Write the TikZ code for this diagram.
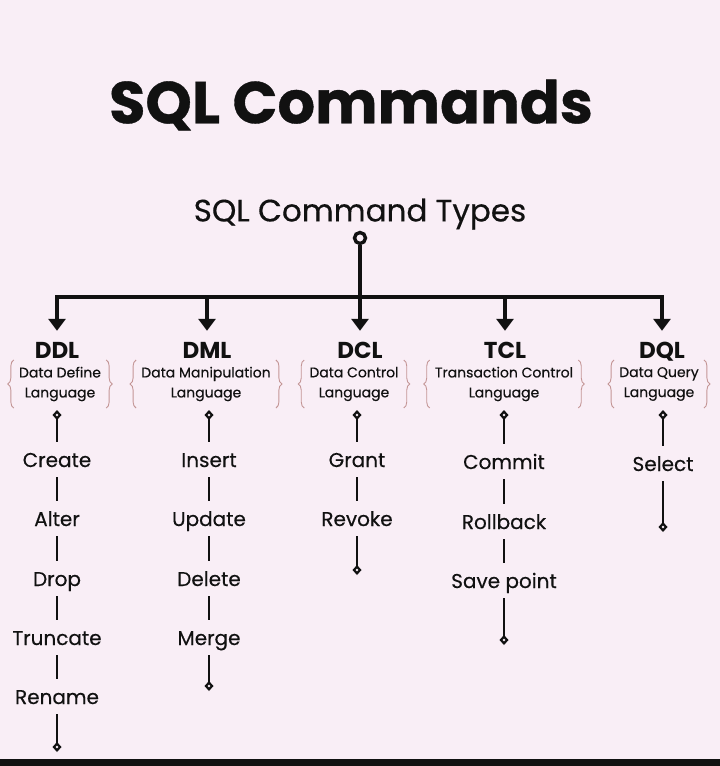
\documentclass[tikz,border=0pt]{standalone}
\usepackage{fontspec}
\setmainfont{Poppins}
\newfontfamily\medfont[FakeBold=0.35]{Poppins}
\newfontfamily\heavyfont[FakeBold=0.6]{Poppins Bold}
\usetikzlibrary{arrows.meta,decorations.pathreplacing}
\definecolor{bg}{HTML}{F9EEF6}
\definecolor{ink}{HTML}{111111}
\definecolor{brc}{HTML}{C49696}
\tikzset{
  title/.style={font=\heavyfont\fontsize{59}{59}\selectfont, text=ink, inner sep=0},
  root/.style={font=\medfont\fontsize{31}{31}\selectfont, text=ink, inner sep=0},
  header/.style={font=\bfseries\fontsize{23}{23}\selectfont, text=ink, anchor=base,
                 text height=16pt, text depth=0pt, inner xsep=0pt, inner ysep=11pt},
  subtitle/.style={font=\medfont\fontsize{14}{20}\selectfont, text=ink, align=center,
                   inner xsep=1pt, inner ysep=0pt},
  item/.style={font=\medfont\fontsize{20}{20}\selectfont, text=ink, anchor=base,
               text height=15pt, text depth=0pt, inner xsep=0pt, inner ysep=10pt},
  busline/.style={draw=ink, line width=4.2pt},
  busarrow/.style={draw=ink, line width=4.2pt, -{Triangle[width=17pt,length=12pt]}},
  conn/.style={draw=ink, line width=2.7pt},
  dstart/.style={{Diamond[open,width=9pt,length=10pt,line width=2.2pt]}-},
  dend/.style={-{Diamond[open,width=9pt,length=10pt,line width=2.2pt]}},
  brace/.style={draw=brc, line width=0.9pt, decorate, decoration={brace,amplitude=6pt}},
}
\begin{document}
\begin{tikzpicture}[x=1pt,y=-1pt]
\fill[bg] (0,0) rectangle (720,766);
\useasboundingbox (0,0) rectangle (720,766);
\fill[ink] (0,759) rectangle (720,766);

\node[title] (title) at (351,105) {SQL Commands};
\node[root] (types) at (360,214) {SQL Command Types};
\node[circle, draw=ink, line width=3.4pt, minimum size=11pt, inner sep=0] (hub) at (360,238) {};
\coordinate (bus) at (360,297);
\draw[busline] (hub.south) -- (bus);

% headers
\node[header] (ddl) at (57,358) {DDL};
\node[header] (dml) at (207,358) {DML};
\node[header] (dcl) at (360,358) {DCL};
\node[header] (tcl) at (505,358) {TCL};
\node[header] (dql) at (662,358) {DQL};
\foreach \h in {ddl,dml,dcl,tcl,dql}{
  \draw[busarrow] (bus) -| (\h.north);
}

% subtitles
\node[subtitle] (sddl) at (60,384) {Data Define\\Language};
\node[subtitle] (sdml) at (206,384) {Data Manipulation\\Language};
\node[subtitle] (sdcl) at (354,384) {Data Control\\Language};
\node[subtitle] (stcl) at (504,384) {Transaction Control\\Language};
\node[subtitle] (sdql) at (659,384) {Data Query\\Language};
\foreach \s in {sddl,sdml,sdcl,stcl,sdql}{
  \draw[brace] ([xshift=-4pt,yshift=-24pt]\s.west) -- ([xshift=-4pt,yshift=24pt]\s.west);
  \draw[brace] ([xshift=4pt,yshift=24pt]\s.east) -- ([xshift=4pt,yshift=-24pt]\s.east);
}

% DDL column
\node[item] (create) at (57,467) {Create};
\node[item] (alter) at (57,526) {Alter};
\node[item] (drop) at (57,586) {Drop};
\node[item] (truncate) at (57,645) {Truncate};
\node[item] (rename) at (57,704) {Rename};
\coordinate (ddltop) at (57,410);
\coordinate (ddlend) at (57,752);
\draw[conn,dstart] (ddltop) -- (create.north);
\draw[conn] (create.south) -- (alter.north);
\draw[conn] (alter.south) -- (drop.north);
\draw[conn] (drop.south) -- (truncate.north);
\draw[conn] (truncate.south) -- (rename.north);
\draw[conn,dend] (rename.south) -- (ddlend);

% DML column
\node[item] (insert) at (209,467) {Insert};
\node[item] (update) at (209,526) {Update};
\node[item] (delete) at (209,586) {Delete};
\node[item] (merge) at (209,645) {Merge};
\coordinate (dmltop) at (209,410);
\coordinate (dmlend) at (209,691);
\draw[conn,dstart] (dmltop) -- (insert.north);
\draw[conn] (insert.south) -- (update.north);
\draw[conn] (update.south) -- (delete.north);
\draw[conn] (delete.south) -- (merge.north);
\draw[conn,dend] (merge.south) -- (dmlend);

% DCL column
\node[item] (grant) at (357,467) {Grant};
\node[item] (revoke) at (357,526) {Revoke};
\coordinate (dcltop) at (357,410);
\coordinate (dclend) at (357,575);
\draw[conn,dstart] (dcltop) -- (grant.north);
\draw[conn] (grant.south) -- (revoke.north);
\draw[conn,dend] (revoke.south) -- (dclend);

% TCL column
\node[item] (commit) at (504,469) {Commit};
\node[item] (rollback) at (504,529) {Rollback};
\node[item] (savepoint) at (504,588) {Save point};
\coordinate (tcltop) at (504,410);
\coordinate (tclend) at (504,645);
\draw[conn,dstart] (tcltop) -- (commit.north);
\draw[conn] (commit.south) -- (rollback.north);
\draw[conn] (rollback.south) -- (savepoint.north);
\draw[conn,dend] (savepoint.south) -- (tclend);

% DQL column
\node[item] (select) at (663,471) {Select};
\coordinate (dqltop) at (663,410);
\coordinate (dqlend) at (663,532);
\draw[conn,dstart] (dqltop) -- (select.north);
\draw[conn,dend] (select.south) -- (dqlend);
\end{tikzpicture}
\end{document}
